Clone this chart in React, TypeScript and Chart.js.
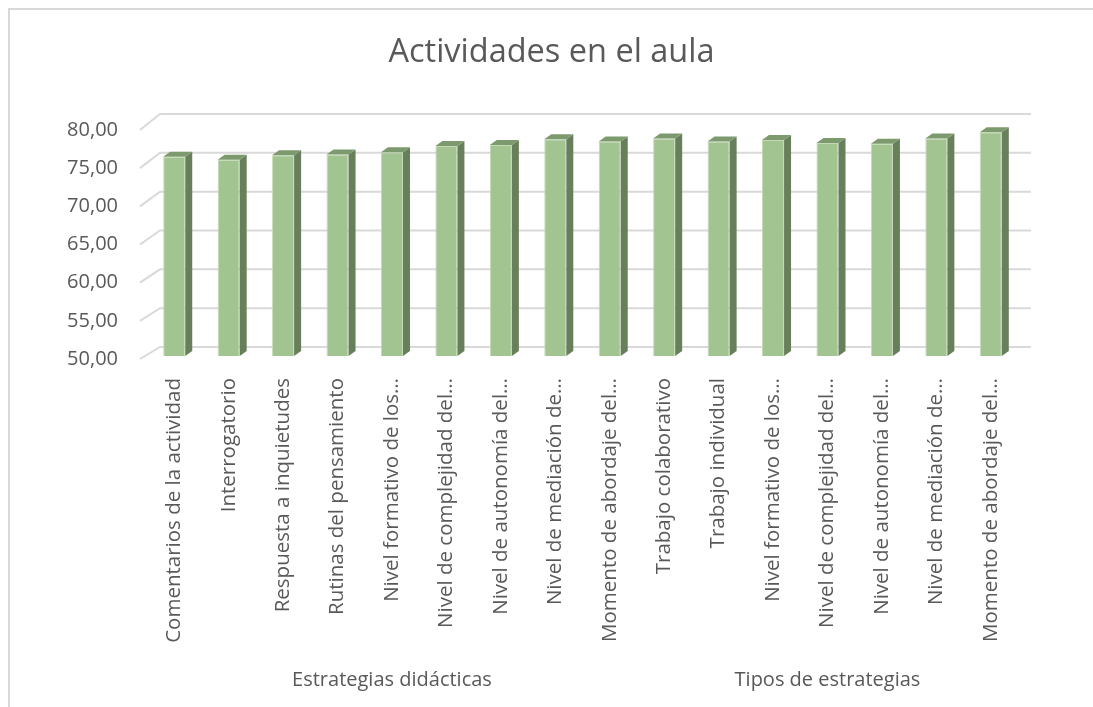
import React, { useEffect, useRef } from "react";
import { Chart, registerables } from "chart.js";

Chart.register(...registerables);

const categories = [
  "Comentarios de la actividad",
  "Interrogatorio",
  "Respuesta a inquietudes",
  "Rutinas del pensamiento",
  "Nivel formativo de los…",
  "Nivel de complejidad del…",
  "Nivel de autonomía del…",
  "Nivel de mediación de…",
  "Momento de abordaje del…",
  "Trabajo colaborativo",
  "Trabajo individual",
  "Nivel formativo de los…",
  "Nivel de complejidad del…",
  "Nivel de autonomía del…",
  "Nivel de mediación de…",
  "Momento de abordaje del…",
];

const values = [76.1, 75.7, 76.3, 76.4, 76.7, 77.5, 77.65, 78.4, 78.1, 78.5, 78.1, 78.3, 77.9, 77.8, 78.5, 79.3];

const groupLabels = ["Estrategias didácticas", "Tipos de estrategias"];
const groupSizes = [9, 7];

const yMin = 50;
const yMax = 80;
const yStep = 5;

const title = "Actividades en el aula";

const TEXT = "#595959";
const FONT = "'Open Sans', 'Noto Sans', sans-serif";
const FACE = "#A1C490";
const SIDE = "#687F5B";
const TOP = "#7D9A6E";
const GRID = "#D9D9D9";

export default function App() {
  const ref = useRef<HTMLCanvasElement>(null);

  useEffect(() => {
    if (!ref.current) return;
    const DX = 7;
    const DY = 5;

    const wall = {
      id: "wall",
      beforeDatasetsDraw(chart: any) {
        const { ctx, chartArea: a, scales } = chart;
        const y = scales.y;
        ctx.save();
        ctx.strokeStyle = GRID;
        ctx.lineWidth = 2;
        y.ticks.forEach((t: any) => {
          const py = y.getPixelForValue(t.value);
          const by = py - 9 - (y.bottom - py) * 0.0175;
          ctx.beginPath();
          ctx.moveTo(a.left - 7, py + 3);
          ctx.lineTo(a.left + 13, by);
          ctx.lineTo(a.right + 13, by);
          ctx.stroke();
        });
        ctx.restore();
      },
    };

    const depth = {
      id: "depth",
      afterDatasetsDraw(chart: any) {
        const { ctx } = chart;
        const meta = chart.getDatasetMeta(0);
        ctx.save();
        meta.data.forEach((el: any) => {
          const { x, y, base, width } = el.getProps(["x", "y", "base", "width"], true);
          const l = x - width / 2;
          const r = x + width / 2;
          ctx.fillStyle = SIDE;
          ctx.beginPath();
          ctx.moveTo(r, y);
          ctx.lineTo(r + DX, y - DY);
          ctx.lineTo(r + DX, base - DY);
          ctx.lineTo(r, base);
          ctx.closePath();
          ctx.fill();
          ctx.fillStyle = TOP;
          ctx.beginPath();
          ctx.moveTo(l, y);
          ctx.lineTo(l + DX, y - DY);
          ctx.lineTo(r + DX, y - DY);
          ctx.lineTo(r, y);
          ctx.closePath();
          ctx.fill();
        });
        ctx.restore();
      },
    };

    const groups = {
      id: "groups",
      afterDraw(chart: any) {
        const { ctx } = chart;
        const x = chart.scales.x;
        ctx.save();
        ctx.fillStyle = TEXT;
        ctx.font = `20px ${FONT}`;
        ctx.textAlign = "center";
        ctx.textBaseline = "middle";
        let start = 0;
        groupLabels.forEach((g, i) => {
          const end = start + groupSizes[i] - 1;
          const cx = (x.getPixelForValue(start) + x.getPixelForValue(end)) / 2;
          ctx.fillText(g, cx, x.bottom - 27);
          start += groupSizes[i];
        });
        ctx.restore();
      },
    };

    const chart = new Chart(ref.current, {
      type: "bar",
      data: {
        labels: categories,
        datasets: [
          {
            data: values,
            base: yMin,
            backgroundColor: FACE,
            borderColor: "#C3DAB5",
            borderWidth: 1,
            barPercentage: 0.405,
            categoryPercentage: 1,
          },
        ],
      },
      options: {
        responsive: false,
        animation: false,
        layout: { padding: 0 },
        plugins: {
          legend: { display: false },
          tooltip: { enabled: false },
          title: {
            display: true,
            text: title,
            color: TEXT,
            font: { family: FONT, size: 32.5, weight: "normal", lineHeight: 1.2 },
            padding: { top: 23.5, bottom: 54.5 },
          },
        },
        scales: {
          x: {
            grid: { display: false, drawTicks: false },
            border: { display: false },
            ticks: {
              autoSkip: false,
              maxRotation: 90,
              minRotation: 90,
              padding: 22,
              color: TEXT,
              font: { family: FONT, size: 20.5 },
            },
            afterFit(scale: any) {
              scale.height = 351;
            },
          },
          y: {
            min: yMin,
            max: yMax,
            grid: { display: false, drawTicks: false },
            border: { display: false },
            ticks: {
              stepSize: yStep,
              padding: 29,
              labelOffset: 3,
              color: TEXT,
              font: { family: FONT, size: 20 },
              callback: (v: any) => Number(v).toFixed(2).replace(".", ","),
            },
            afterFit(scale: any) {
              scale.width = 137;
            },
          },
          yRight: {
            position: "right",
            min: yMin,
            max: yMax,
            grid: { display: false, drawTicks: false },
            border: { display: false },
            ticks: { display: false },
            afterFit(scale: any) {
              scale.width = 75;
            },
          },
        },
      },
      plugins: [wall, depth, groups],
    });

    return () => chart.destroy();
  }, []);

  return (
    <div
      style={{
        position: "fixed",
        left: 8,
        top: 8,
        width: 1085,
        height: 699,
        boxSizing: "border-box",
        borderLeft: `2px solid ${GRID}`,
        borderTop: `2px solid ${GRID}`,
        background: "#fff",
      }}
    >
      <canvas ref={ref} width={1083} height={697} style={{ display: "block" }} />
    </div>
  );
}
